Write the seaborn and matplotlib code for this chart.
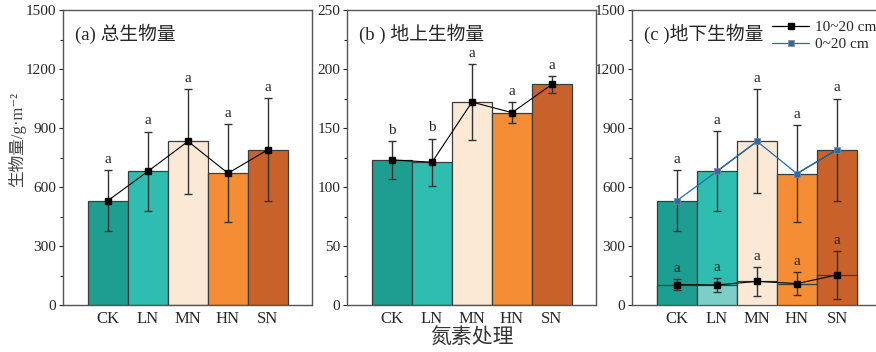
import seaborn as sns, matplotlib.pyplot as plt, numpy as np
from matplotlib.lines import Line2D

sns.set_style("white")
plt.rcParams['font.family'] = ['Liberation Serif', 'Noto Sans CJK SC', 'DejaVu Serif']

treatments = ["CK", "LN", "MN", "HN", "SN"]
bar_colors = ["#1d9e91", "#2fbdb2", "#fbe9d5", "#f48d33", "#c8622a"]
low_colors = ["#1d9e91", "#7dcdc9", "#fbe9d5", "#f48d33", "#c8622a"]

# (a) total biomass
total_mean = [531, 680, 832, 670, 790]
total_err = [155, 202, 266, 248, 261]
total_sig = ["a", "a", "a", "a", "a"]

# (b) aboveground biomass
above_mean = [123, 121, 172, 163, 187]
above_err = [16, 20, 32, 9, 7]
above_sig = ["b", "b", "a", "a", "a"]

# (c) belowground biomass
below_0_20 = [531, 680, 832, 668, 790]
below_0_20_err = [155, 203, 265, 248, 260]
below_0_20_sig = ["a", "a", "a", "a", "a"]
below_10_20 = [104, 102, 120, 109, 153]
below_10_20_err = [27, 36, 73, 57, 122]
below_10_20_sig = ["a", "a", "a", "a", "a"]

fig = plt.figure(figsize=(8.76, 3.52), dpi=100)
W, H = 876, 352
def axes_at(left, top, right, bottom):
    return fig.add_axes([left / W, 1 - bottom / H, (right - left) / W, (bottom - top) / H])

axA = axes_at(63, 10, 312, 305)
axB = axes_at(347, 10, 596, 305)
axC = axes_at(632, 10, 881, 305)

x = np.arange(len(treatments))
edge = "#3c3c3c"
errc = "#333333"

def bars(ax, vals, colors):
    sns.barplot(x=treatments, y=vals, hue=treatments, palette=colors, width=1,
                edgecolor=edge, linewidth=0.9, legend=False, ax=ax, saturation=1)

def letters(ax, means, errs, sig):
    for xi, m, e, s in zip(x, means, errs, sig):
        ax.annotate(s, (xi, m + e), xytext=(0, 3), textcoords="offset points",
                    ha="center", va="bottom", fontsize=11)

def style(ax, ymax, step, title):
    ax.set_xlim(-1.125, 5.1)
    ax.set_ylim(0, ymax)
    ax.set_yticks(np.arange(0, ymax + 1, step))
    ax.set_yticks(np.arange(step / 2, ymax, step), minor=True)
    ax.tick_params(axis="y", which="major", direction="out", length=3, width=0.8,
                   labelsize=11, pad=2, left=True)
    ax.tick_params(axis="y", which="minor", direction="out", length=2, width=0.8, left=True)
    ax.tick_params(axis="x", length=0, labelsize=12, pad=4)
    for sp in ax.spines.values():
        sp.set_color("#555555")
        sp.set_linewidth(1.0)
    ax.set_xlabel("")
    ax.set_ylabel("")
    ax.text(0.05, 0.955, title, transform=ax.transAxes, ha="left", va="top", fontsize=13.5)

# panel a
bars(axA, total_mean, bar_colors)
axA.errorbar(x, total_mean, yerr=total_err, color="black", lw=0.8, marker="s", ms=5,
             ecolor=errc, elinewidth=1.0, capsize=3, capthick=1.0, zorder=5)
letters(axA, total_mean, total_err, total_sig)
style(axA, 1500, 300, "(a) 总生物量")
axA.set_ylabel("生物量/g·m⁻²", fontsize=12, color="#444444")
axA.yaxis.set_label_coords(-0.15, 0.56)

# panel b
bars(axB, above_mean, bar_colors)
axB.errorbar(x, above_mean, yerr=above_err, color="black", lw=0.8, marker="s", ms=5,
             ecolor=errc, elinewidth=1.0, capsize=3, capthick=1.0, zorder=5)
letters(axB, above_mean, above_err, above_sig)
style(axB, 250, 50, "(b ) 地上生物量")
axB.set_xlabel("氮素处理", fontsize=15, color="#333333", labelpad=1)

# panel c
bars(axC, below_0_20, bar_colors)
axC.bar(x, below_10_20, width=1, color=low_colors, edgecolor=edge, linewidth=0.9, zorder=3)
axC.errorbar(x, below_0_20, yerr=below_0_20_err, fmt="none", ecolor=errc,
             elinewidth=1.0, capsize=3, capthick=1.0, zorder=5)
axC.plot(x, below_0_20, color="#1f6fb8", lw=0.9, marker="s", ms=5,
         mfc="#1f6fb8", mec="#888888", mew=0.5, zorder=6)
axC.plot(x[1:3], below_0_20[1:3], color="black", lw=0.8, zorder=5.5)
axC.plot(x[3:5], below_0_20[3:5], color="black", lw=0.8, zorder=5.5)
axC.errorbar(x, below_10_20, yerr=below_10_20_err, color="black", lw=0.8, marker="s", ms=5,
             ecolor=errc, elinewidth=1.0, capsize=3, capthick=1.0, zorder=6)
letters(axC, below_0_20, below_0_20_err, below_0_20_sig)
letters(axC, below_10_20, below_10_20_err, below_10_20_sig)
style(axC, 1500, 300, "(c )地下生物量")
handles = [Line2D([], [], color="black", lw=0.9, marker="s", ms=5),
           Line2D([], [], color="#1f6fb8", lw=0.9, marker="s", ms=5, mec="#888888", mew=0.5)]
axC.legend(handles, ["10~20 cm", "0~20 cm"], loc="upper left",
           bbox_to_anchor=(0.52, 1.0), frameon=False, fontsize=11, handlelength=2.4,
           handletextpad=0.4, borderaxespad=0.3, labelspacing=0.2)

plt.savefig("out.png", dpi=100)
